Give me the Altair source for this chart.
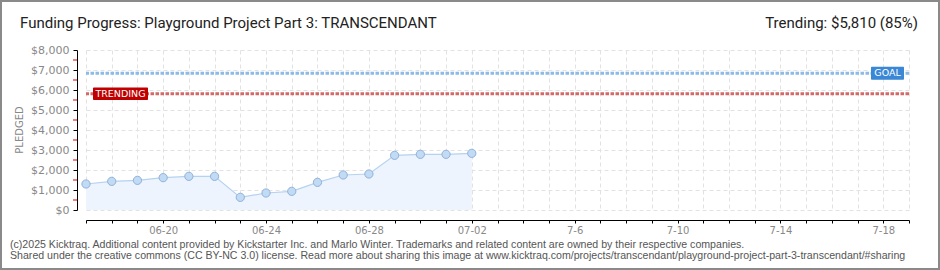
import json
import altair as alt
import pandas as pd

# ---- data ----
dates = ["06-17", "06-18", "06-19", "06-20", "06-21", "06-22", "06-23", "06-24",
         "06-25", "06-26", "06-27", "06-28", "06-29", "06-30", "07-01", "07-02"]
pledged = [1300, 1433, 1483, 1617, 1683, 1683, 633, 850,
           933, 1383, 1750, 1800, 2733, 2783, 2783, 2833]
goal = [6835]
trending = [5810]
minor_ticks = [500, 1500, 2500, 3500, 4500, 5500, 6500, 7500]
y_ticks = [0, 1000, 2000, 3000, 4000, 5000, 6000, 7000, 8000]
n_days = 33  # 06-17 .. 07-19
x_tick_labels = {3: "06-20", 7: "06-24", 11: "06-28", 15: "07-02",
                 19: "7-6", 23: "7-10", 27: "7-14", 31: "7-18"}

title_text = "Funding Progress: Playground Project Part 3: TRANSCENDANT"
trend_text = "Trending: $5,810 (85%)"
footer1 = ("(c)2025 Kicktraq. Additional content provided by Kickstarter Inc. and Marlo Winter. "
           "Trademarks and related content are owned by their respective companies.")
footer2 = ("Shared under the creative commons (CC BY-NC 3.0) license. Read more about sharing this "
           "image at www.kicktraq.com/projects/transcendant/playground-project-part-3-transcendant/#sharing")

df = pd.DataFrame({"day": list(range(len(dates))), "date": dates, "pledged": pledged})
label_arr = [x_tick_labels.get(i, "") for i in range(n_days)]
label_expr = json.dumps(label_arr) + "[datum.value]"

W, H = 823, 160
FONT = "DejaVu Sans"

xscale = alt.Scale(domain=[0, n_days - 1], nice=False, zero=False)
yscale = alt.Scale(domain=[0, 8000], nice=False)

xaxis = alt.Axis(values=list(range(n_days)), labelExpr=label_expr, title=None,
                 offset=10, labelOverlap=False, labelFlush=False,
                 domainColor="#000", tickColor="#000", tickSize=3,
                 labelColor="#888", labelFont=FONT, labelFontSize=10, labelPadding=2,
                 grid=True, gridColor="#e2e2e2", gridDash=[4, 3])
yaxis = alt.Axis(values=y_ticks, format="$,d", title=None, offset=9,
                 labelOverlap=False, labelFlush=False,
                 domainColor="#000", tickColor="#000", tickSize=4,
                 labelColor="#888", labelFont=FONT, labelFontSize=11, labelPadding=4,
                 grid=True, gridColor="#e2e2e2", gridDash=[4, 3])


def X(f):
    return alt.X(f, scale=xscale, axis=xaxis)


def Y(f):
    return alt.Y(f, scale=yscale, axis=yaxis)


base = alt.Chart(df)
area = base.mark_area(color="#edf4fd", opacity=1).encode(x=X("day:Q"), y=Y("pledged:Q"))
line = base.mark_line(color="#b5d2f0", strokeWidth=1.2).encode(x=X("day:Q"), y=Y("pledged:Q"))
pts = base.mark_point(filled=True, fill="#c2dbf5", stroke="#8fb1da", strokeWidth=1,
                      size=68, opacity=1).encode(x=X("day:Q"), y=Y("pledged:Q"))

goal_df = pd.DataFrame({"v": goal})
trend_df = pd.DataFrame({"v": trending})
goal_rule = alt.Chart(goal_df).mark_rule(color="#8dbbe8", strokeWidth=3, strokeDash=[3.5, 1.5]).encode(
    y=Y("v:Q"))
trend_rule = alt.Chart(trend_df).mark_rule(color="#d26a6a", strokeWidth=3, strokeDash=[3.5, 1.5]).encode(
    y=Y("v:Q"))

minor = alt.Chart(pd.DataFrame({"v": minor_ticks})).mark_rule(color="#e00000", strokeWidth=1).encode(
    y=Y("v:Q"), x=alt.value(-13), x2=alt.value(-9))

trend_badge = alt.Chart(trend_df).transform_calculate(
    lo="datum.v - 315", hi="datum.v + 315").mark_rect(color="#c00000", cornerRadius=1).encode(
    x=alt.value(7), x2=alt.value(62), y=Y("lo:Q"), y2="hi:Q")
trend_lbl = alt.Chart(trend_df).mark_text(color="white", font=FONT, fontSize=9.5).encode(
    x=alt.value(34.5), y=Y("v:Q"), text=alt.value("TRENDING"))
goal_badge = alt.Chart(goal_df).transform_calculate(
    lo="datum.v - 325", hi="datum.v + 325").mark_rect(color="#3a87d6", cornerRadius=1).encode(
    x=alt.value(785), x2=alt.value(818), y=Y("lo:Q"), y2="hi:Q")
goal_lbl = alt.Chart(goal_df).mark_text(color="white", font=FONT, fontSize=9.5).encode(
    x=alt.value(801.5), y=Y("v:Q"), text=alt.value("GOAL"))

one = pd.DataFrame({"a": [0]})
texts = alt.Chart(one)
title = texts.mark_text(align="left", baseline="alphabetic", font="Roboto", fontSize=15,
                        color="#222").encode(x=alt.value(-66), y=alt.value(-22), text=alt.value(title_text))
trend_t = texts.mark_text(align="right", baseline="alphabetic", font="Roboto", fontSize=15,
                          color="#222").encode(x=alt.value(832), y=alt.value(-22), text=alt.value(trend_text))
ylab = texts.mark_text(angle=270, font=FONT, fontSize=10, color="#888").encode(
    x=alt.value(-66), y=alt.value(80), text=alt.value("PLEDGED"))
f1 = texts.mark_text(align="left", baseline="middle", font="Liberation Sans", fontSize=10.6,
                     color="#555").encode(x=alt.value(-76), y=alt.value(195), text=alt.value(footer1))
f2 = texts.mark_text(align="left", baseline="middle", font="Liberation Sans", fontSize=10.6,
                     color="#555").encode(x=alt.value(-76), y=alt.value(206), text=alt.value(footer2))
frame = texts.mark_rect(fillOpacity=0, stroke="#8a8a8a", strokeWidth=2).encode(
    x=alt.value(-85), x2=alt.value(853), y=alt.value(-49), y2=alt.value(219))

chart = alt.layer(area, line, goal_rule, trend_rule, pts, minor, trend_badge, trend_lbl,
                  goal_badge, goal_lbl, title, trend_t, ylab, f1, f2, frame).properties(
    width=W, height=H, autosize=alt.AutoSizeParams(type="none"),
    padding={"left": 86, "top": 50, "right": 31, "bottom": 60},
    background="white",
).configure_view(stroke=None).configure_axis(labelOverlap=False)

chart.save("out.html", embed_options={"renderer": "svg", "actions": False})
